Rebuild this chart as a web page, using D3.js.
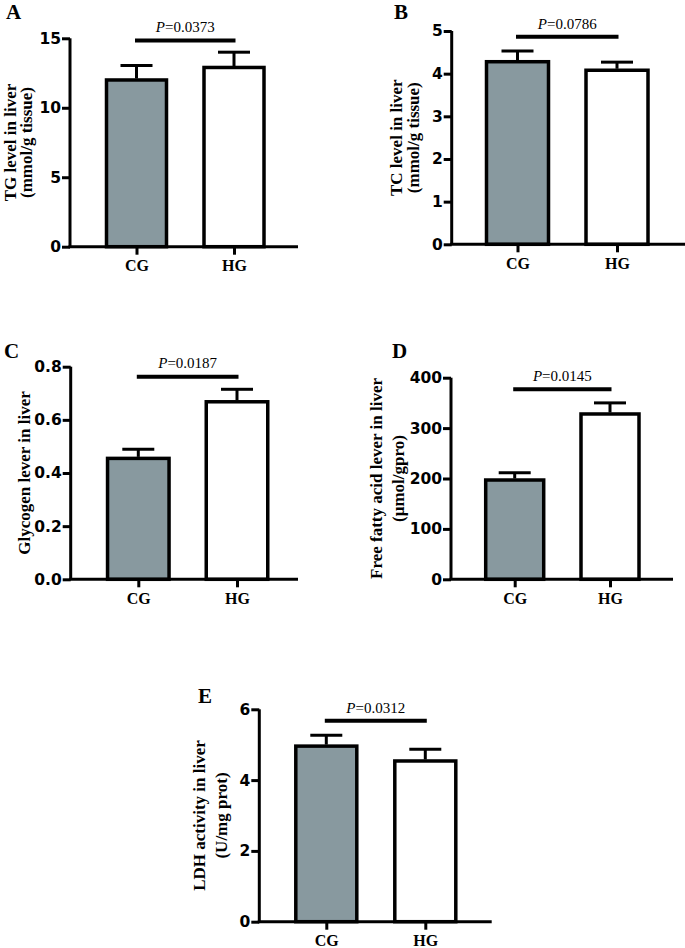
<!DOCTYPE html>
<html>
<head>
<meta charset="utf-8">
<script src="https://cdn.jsdelivr.net/npm/d3@7/dist/d3.min.js"></script>
<style>
  html, body { margin: 0; padding: 0; background: #fff; }
  svg { display: block; }
</style>
</head>
<body>
<svg id="chart" width="685" height="948"></svg>
<script>
// ---------------- DATA ----------------
const categories = ["CG", "HG"];

const tgMeans = [12.0, 12.9];
const tgErrs  = [1.05, 1.1];
const tgTicks = [0, 5, 10, 15];
const tgP = "0.0373";

const tcMeans = [4.28, 4.08];
const tcErrs  = [0.25, 0.19];
const tcTicks = [0, 1, 2, 3, 4, 5];
const tcP = "0.0786";

const glyMeans = [0.455, 0.668];
const glyErrs  = [0.034, 0.047];
const glyTicks = [0.0, 0.2, 0.4, 0.6, 0.8];
const glyP = "0.0187";

const ffaMeans = [197, 328];
const ffaErrs  = [14.5, 22];
const ffaTicks = [0, 100, 200, 300, 400];
const ffaP = "0.0145";

const ldhMeans = [4.96, 4.54];
const ldhErrs  = [0.31, 0.33];
const ldhTicks = [0, 2, 4, 6];
const ldhP = "0.0312";

// ---------------- LAYOUT ----------------
const panels = [
  { letter: "A", title: ["TG level in liver", "(mmol/g tissue)"], means: tgMeans, errs: tgErrs, ticks: tgTicks, p: tgP, fmt: d3.format("d"),
    L: { ax: 70, right: 298, top: 38.3, bottom: 246.7, c1: 136.5, c2: 234, barW: 60, brY: 40.5, pY: 32, tX: [15.5, 32], tY: 142.5, lx: 6, ly: 19 } },
  { letter: "B", title: ["TC level in liver", "(mmol/g tissue)"], means: tcMeans, errs: tcErrs, ticks: tcTicks, p: tcP, fmt: d3.format("d"),
    L: { ax: 451.7, right: 685, top: 31, bottom: 244.3, c1: 517.5, c2: 617, barW: 62, brY: 36.7, pY: 29, tX: [402, 418.5], tY: 137.7, lx: 394, ly: 19 } },
  { letter: "C", title: ["Glycogen lever in liver"], means: glyMeans, errs: glyErrs, ticks: glyTicks, p: glyP, fmt: d3.format(".1f"),
    L: { ax: 70.7, right: 298, top: 366.7, bottom: 579.3, c1: 138.3, c2: 237, barW: 61.5, brY: 376.7, pY: 368, tX: [29.5], tY: 473, lx: 4, ly: 358 } },
  { letter: "D", title: ["Free fatty acid lever in liver", "(μmol/gpro)"], means: ffaMeans, errs: ffaErrs, ticks: ffaTicks, p: ffaP, fmt: d3.format("d"),
    L: { ax: 451, right: 673, top: 377.7, bottom: 579.3, c1: 514.7, c2: 610, barW: 58, brY: 389.3, pY: 380.7, tX: [382, 404], tY: 478.5, lx: 392, ly: 358 } },
  { letter: "E", title: ["LDH activity in liver", "(U/mg prot)"], means: ldhMeans, errs: ldhErrs, ticks: ldhTicks, p: ldhP, fmt: d3.format("d"),
    L: { ax: 259.3, right: 491.7, top: 709.3, bottom: 921.7, c1: 326.3, c2: 425.3, barW: 61, brY: 720.7, pY: 712.7, tX: [205, 227], tY: 815.5, lx: 198, ly: 703.3 } }
];

const fills = ["#88999f", "#ffffff"];
const serif = "'Liberation Serif', 'Times New Roman', serif";
const sans = "'DejaVu Sans', Arial, sans-serif";

const svg = d3.select("#chart");

panels.forEach(P => {
  const L = P.L;
  const g = svg.append("g");
  const yMax = P.ticks[P.ticks.length - 1];
  const y = d3.scaleLinear().domain([0, yMax]).range([L.bottom, L.top]);
  const x = d3.scalePoint().domain(categories).range([L.c1, L.c2]);

  // bars
  g.selectAll("rect.bar").data(categories).enter().append("rect")
    .attr("x", d => x(d) - L.barW / 2)
    .attr("width", L.barW)
    .attr("y", (d, i) => y(P.means[i]))
    .attr("height", (d, i) => L.bottom - y(P.means[i]))
    .attr("fill", (d, i) => fills[i])
    .attr("stroke", "#000").attr("stroke-width", 3.5);

  // error bars (upper only)
  categories.forEach((c, i) => {
    const top = y(P.means[i] + P.errs[i]);
    g.append("line").attr("x1", x(c)).attr("x2", x(c))
      .attr("y1", y(P.means[i]) - 1.5).attr("y2", top)
      .attr("stroke", "#000").attr("stroke-width", 3);
    g.append("line").attr("x1", x(c) - 16).attr("x2", x(c) + 16)
      .attr("y1", top).attr("y2", top)
      .attr("stroke", "#000").attr("stroke-width", 3);
  });

  // y axis
  const yAxis = d3.axisLeft(y).tickValues(P.ticks).tickFormat(P.fmt).tickSize(8).tickPadding(1);
  const ya = g.append("g").attr("transform", `translate(${L.ax},0)`).call(yAxis);
  ya.select(".domain").attr("d", `M0,${L.bottom}V${L.top}`).attr("stroke-width", 3);
  ya.selectAll(".tick line").attr("stroke-width", 3);
  ya.selectAll(".tick text").attr("font-family", sans).attr("font-weight", "bold")
    .attr("font-size", 15.5).attr("fill", "#000");

  // x axis
  const xAxis = d3.axisBottom(x).tickSize(8).tickPadding(5);
  const xa = g.append("g").attr("transform", `translate(0,${L.bottom})`).call(xAxis);
  xa.select(".domain").attr("d", `M${L.ax - 1.5},0H${L.right}`).attr("stroke-width", 3);
  xa.selectAll(".tick line").attr("stroke-width", 3);
  xa.selectAll(".tick text").attr("font-family", serif).attr("font-weight", "bold")
    .attr("font-size", 16).attr("fill", "#000").attr("dy", null).attr("y", 24.5)
    .attr("dominant-baseline", "alphabetic");

  // significance bracket
  const bx1 = x(categories[0]) - 1.5, bx2 = x(categories[1]) + 1.5;
  g.append("line").attr("x1", bx1).attr("x2", bx2).attr("y1", L.brY).attr("y2", L.brY)
    .attr("stroke", "#000").attr("stroke-width", 4);
  const pt = g.append("text").attr("x", (bx1 + bx2) / 2).attr("y", L.pY)
    .attr("text-anchor", "middle").attr("font-family", serif).attr("font-size", 15).attr("fill", "#000");
  pt.append("tspan").attr("font-style", "italic").text("P");
  pt.append("tspan").text("=" + P.p);

  // y title
  P.title.forEach((t, k) => {
    g.append("text")
      .attr("transform", `translate(${L.tX[k]},${L.tY}) rotate(-90)`)
      .attr("text-anchor", "middle")
      .attr("font-family", serif).attr("font-weight", "bold").attr("font-size", 17)
      .attr("fill", "#000").text(t);
  });

  // panel letter
  g.append("text").attr("x", L.lx).attr("y", L.ly)
    .attr("font-family", serif).attr("font-weight", "bold").attr("font-size", 21)
    .attr("fill", "#000").text(P.letter);
});
</script>
</body>
</html>
